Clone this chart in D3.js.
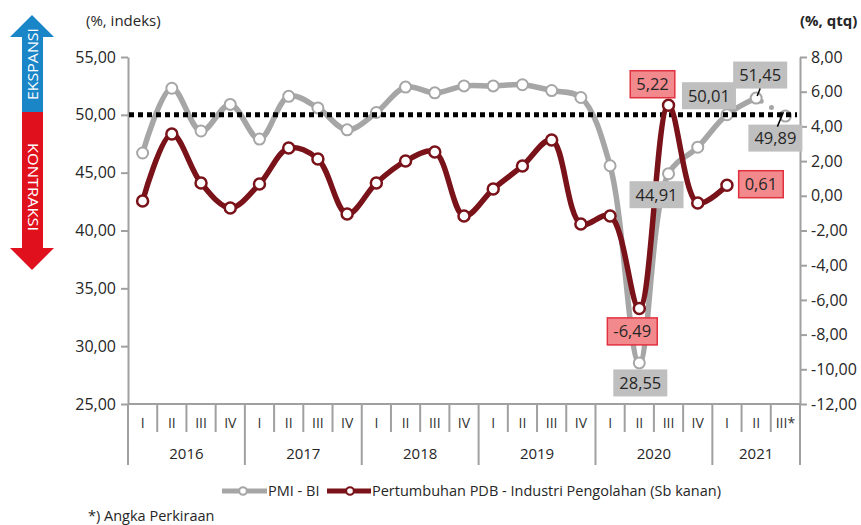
<!DOCTYPE html>
<html>
<head>
<meta charset="utf-8">
<script src="https://cdn.jsdelivr.net/npm/d3@7"></script>
<style>
  html, body { margin: 0; padding: 0; background: #ffffff; }
  svg { display: block; font-family: "Open Sans", "Noto Sans", sans-serif; }
</style>
</head>
<body>
<svg id="chart" width="861" height="525"></svg>
<script>
// ---------- data ----------
const quarters = ["I","II","III","IV","I","II","III","IV","I","II","III","IV","I","II","III","IV","I","II","III","IV","I","II","III*"];
const years = ["2016","2017","2018","2019","2020","2021"];
const yearQuarterCounts = [4,4,4,4,4,3];
const pmi = [46.7, 52.3, 48.6, 50.9, 47.9, 51.6, 50.6, 48.7, 50.2, 52.4, 51.9, 52.5, 52.5, 52.6, 52.1, 51.5, 45.6, 28.55, 44.91, 47.2, 50.01, 51.45, 49.89];
const pdb = [-0.30, 3.56, 0.74, -0.70, 0.68, 2.75, 2.12, -1.05, 0.74, 2.00, 2.52, -1.16, 0.39, 1.72, 3.22, -1.62, -1.16, -6.49, 5.22, -0.41, 0.61];
const leftTicks = [25, 30, 35, 40, 45, 50, 55];
const rightTicks = [-12, -10, -8, -6, -4, -2, 0, 2, 4, 6, 8];
const threshold = 50;
// labelled points: [index, dx, dy, leader]
const pmiLabels = [[17, 1, 20, false], [18, -12, 21, false], [20, -18, -19, false], [21, 4, -23, true], [22, -10, 22, true]];
const pdbLabels = [[17, -7, 23], [18, -16, -21], [20, 34, -1]];

// ---------- layout ----------
const svg = d3.select("#chart");
const L = 128, R = 800, T = 57, B = 404;
const GRAY = "#a6a6a6", MAROON = "#7a1219", AXIS = "#a0a0a0", TXT = "#262626";

const x = d3.scaleBand().domain(d3.range(quarters.length)).range([L, R]).paddingInner(0).paddingOuter(0);
const cx = i => x(i) + x.bandwidth() / 2;
const yL = d3.scaleLinear().domain([25, 55]).range([B, T]);
const yR = d3.scaleLinear().domain([-12, 8]).range([B, T]);
const fmt = v => d3.format(".2f")(v).replace(".", ",").replace("\u2212", "-");

// ---------- arrows ----------
svg.append("path")
  .attr("d", "M32,15 L54,37 L43,37 L43,112 L22,112 L22,37 L10,37 Z")
  .attr("fill", "#1a86c8");
svg.append("path")
  .attr("d", "M22,112 L43,112 L43,248 L54,248 L32,270 L10,248 L22,248 Z")
  .attr("fill", "#e1101d");
svg.append("text").attr("transform", "translate(37.5,64) rotate(-90)")
  .attr("text-anchor", "middle").attr("fill", "#fff").attr("font-size", 14)
  .attr("textLength", 72).attr("lengthAdjust", "spacingAndGlyphs")
  .text("EKSPANSI");
svg.append("text").attr("transform", "translate(27.5,187) rotate(90)")
  .attr("text-anchor", "middle").attr("fill", "#fff").attr("font-size", 14)
  .attr("textLength", 88).attr("lengthAdjust", "spacingAndGlyphs")
  .text("KONTRAKSI");

// ---------- axis titles ----------
svg.append("text").attr("x", 86).attr("y", 26).attr("font-size", 15).attr("fill", TXT).text("(%, indeks)");
svg.append("text").attr("x", 800).attr("y", 26).attr("font-size", 15).attr("font-weight", "bold").attr("fill", TXT).text("(%, qtq)");

// ---------- y axes ----------
function styleAxis(g) {
  g.select(".domain").attr("stroke", AXIS).attr("stroke-width", 2);
  g.selectAll(".tick line").attr("stroke", AXIS).attr("stroke-width", 2);
  g.selectAll(".tick text").attr("fill", TXT).attr("font-size", 16).attr("font-family", "Open Sans");
}
const gL = svg.append("g").attr("transform", `translate(${L},0)`)
  .call(d3.axisLeft(yL).tickValues(leftTicks).tickSize(7).tickSizeOuter(0).tickPadding(5).tickFormat(fmt));
styleAxis(gL);
const gR = svg.append("g").attr("transform", `translate(${R},0)`)
  .call(d3.axisRight(yR).tickValues(rightTicks).tickSize(7).tickSizeOuter(0).tickPadding(4).tickFormat(fmt));
styleAxis(gR);

// ---------- x axis (category table) ----------
const gx = svg.append("g");
gx.append("line").attr("x1", L).attr("x2", R).attr("y1", B).attr("y2", B)
  .attr("stroke", AXIS).attr("stroke-width", 2);
const yearStarts = [];
{ let s = 0; yearQuarterCounts.forEach(c => { yearStarts.push(s); s += c; }); yearStarts.push(s); }
d3.range(quarters.length + 1).forEach(i => {
  const xx = i < quarters.length ? x(i) : R;
  const isYear = yearStarts.includes(i);
  gx.append("line").attr("x1", xx).attr("x2", xx).attr("y1", B).attr("y2", isYear ? 465 : 432)
    .attr("stroke", AXIS).attr("stroke-width", 2);
});
gx.selectAll("text.q").data(quarters).join("text").attr("class", "q")
  .attr("x", (d, i) => cx(i)).attr("y", 428).attr("text-anchor", "middle")
  .attr("font-size", 14).attr("fill", "#333333").text(d => d);
gx.selectAll("text.yr").data(years).join("text").attr("class", "yr")
  .attr("x", (d, i) => {
    const s = yearStarts[i], e = yearStarts[i + 1];
    const x0 = x(s), x1 = e < quarters.length ? x(e) : R;
    return (x0 + x1) / 2;
  })
  .attr("y", 459).attr("text-anchor", "middle").attr("font-size", 15).attr("fill", TXT).text(d => d);

// ---------- PMI series ----------
const curve = d3.curveCatmullRom.alpha(0.5);
const linePmi = d3.line().x((d, i) => cx(i)).y(d => yL(d)).curve(curve);
svg.append("path").datum(pmi.slice(0, pmi.length - 1)).attr("d", linePmi)
  .attr("fill", "none").attr("stroke", GRAY).attr("stroke-width", 5.5).attr("stroke-linejoin", "round");
// estimated last segment (dotted)
const lastI = pmi.length - 1;
svg.append("line")
  .attr("x1", cx(lastI - 1)).attr("y1", yL(pmi[lastI - 1]))
  .attr("x2", cx(lastI)).attr("y2", yL(pmi[lastI]))
  .attr("stroke", GRAY).attr("stroke-width", 5).attr("stroke-linecap", "round")
  .attr("stroke-dasharray", "0,12").attr("stroke-dashoffset", -6);
svg.append("g").selectAll("circle").data(pmi).join("circle")
  .attr("cx", (d, i) => cx(i)).attr("cy", d => yL(d)).attr("r", 5.5)
  .attr("fill", "#fff").attr("stroke", GRAY).attr("stroke-width", 2);

// ---------- threshold dotted line ----------
svg.append("line").attr("x1", L + 1).attr("x2", R - 3).attr("y1", yL(threshold)).attr("y2", yL(threshold))
  .attr("stroke", "#000").attr("stroke-width", 5).attr("stroke-dasharray", "5,4");

// ---------- PDB series ----------
const linePdb = d3.line().x((d, i) => cx(i)).y(d => yR(d)).curve(curve);
svg.append("path").datum(pdb).attr("d", linePdb)
  .attr("fill", "none").attr("stroke", MAROON).attr("stroke-width", 5.5).attr("stroke-linejoin", "round");
svg.append("g").selectAll("circle").data(pdb).join("circle")
  .attr("cx", (d, i) => cx(i)).attr("cy", d => yR(d)).attr("r", 5.5)
  .attr("fill", "#fff").attr("stroke", MAROON).attr("stroke-width", 2.5);

// ---------- data labels ----------
function labelBox(px, py, dx, dy, value, kind, leader) {
  const g = svg.append("g");
  const lx = px + dx, ly = py + dy;
  const t = g.append("text").attr("x", lx).attr("y", ly + 6).attr("text-anchor", "middle")
    .attr("font-size", 16.5).attr("fill", TXT).text(fmt(value));
  const bb = t.node().getBBox();
  const w = bb.width + 12, h = 27;
  g.insert("rect", "text").attr("x", lx - w / 2).attr("y", ly - h / 2).attr("width", w).attr("height", h)
    .attr("fill", kind === "red" ? "#f28a8d" : "#bfbfbf")
    .attr("stroke", kind === "red" ? "#e1313f" : "none").attr("stroke-width", 1.5);
  if (leader) {
    const edge = dy < 0 ? ly + h / 2 : ly - h / 2;
    svg.append("line")
      .attr("x1", dy < 0 ? px + 1 : px - 8).attr("y1", dy < 0 ? py - 2 : edge + 2)
      .attr("x2", dy < 0 ? px + 4 : px - 2).attr("y2", dy < 0 ? edge : py - 4)
      .attr("stroke", "#000").attr("stroke-width", 1.5);
  }
}
pdbLabels.forEach(([i, dx, dy]) => labelBox(cx(i), yR(pdb[i]), dx, dy, pdb[i], "red", false));
pmiLabels.forEach(([i, dx, dy, leader]) => labelBox(cx(i), yL(pmi[i]), dx, dy, pmi[i], "gray", leader));

// ---------- legend ----------
const lg = svg.append("g");
lg.append("line").attr("x1", 222).attr("x2", 267).attr("y1", 491).attr("y2", 491)
  .attr("stroke", GRAY).attr("stroke-width", 5);
lg.append("circle").attr("cx", 243).attr("cy", 491).attr("r", 3.8).attr("fill", "#fff").attr("stroke", GRAY).attr("stroke-width", 2);
lg.append("text").attr("x", 268).attr("y", 496).attr("font-size", 14.5).attr("fill", TXT).text("PMI - BI");
lg.append("line").attr("x1", 327).attr("x2", 371).attr("y1", 491).attr("y2", 491)
  .attr("stroke", MAROON).attr("stroke-width", 5);
lg.append("circle").attr("cx", 350).attr("cy", 491).attr("r", 3.8).attr("fill", "#fff").attr("stroke", MAROON).attr("stroke-width", 2);
lg.append("text").attr("x", 372).attr("y", 496).attr("font-size", 14.5).attr("fill", TXT)
  .text("Pertumbuhan PDB - Industri Pengolahan (Sb kanan)");

svg.append("text").attr("x", 88).attr("y", 521).attr("font-size", 14.5).attr("fill", TXT).text("*) Angka Perkiraan");
</script>
</body>
</html>
